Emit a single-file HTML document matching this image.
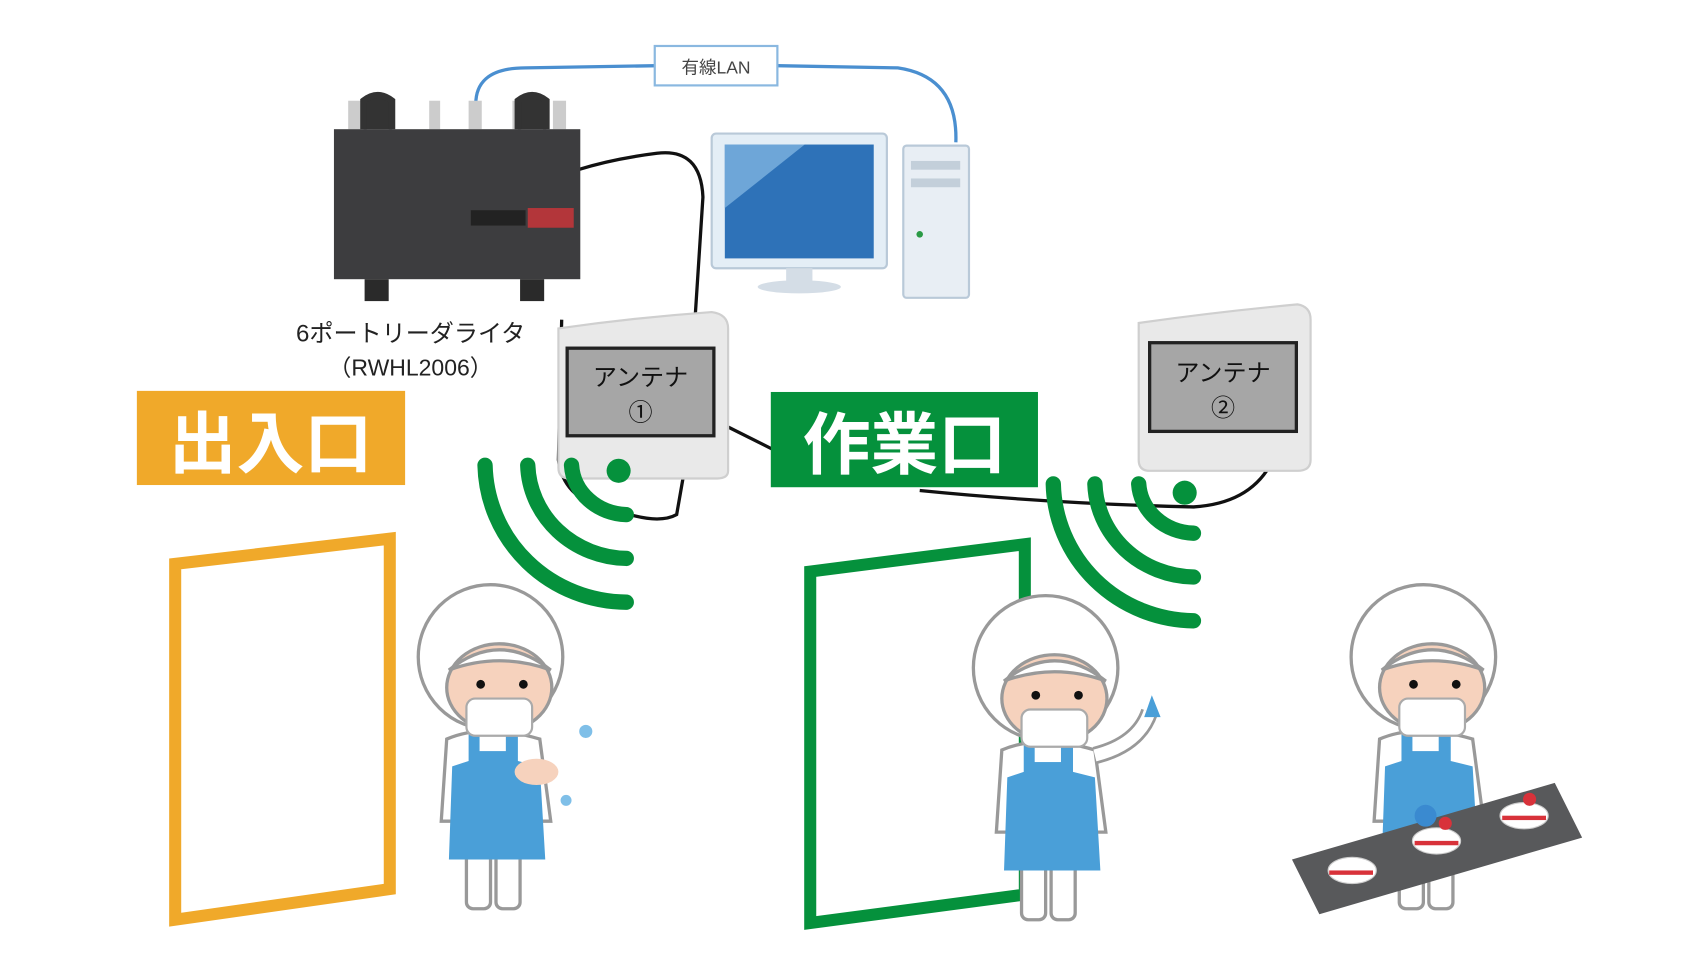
<!DOCTYPE html>
<html><head><meta charset="utf-8"><style>
html,body{margin:0;padding:0;background:#fff;width:1708px;height:962px;overflow:hidden}
svg{display:block}
text{font-family:"Liberation Sans","Noto Sans CJK JP",sans-serif}
</style></head><body>
<svg width="1708" height="962" viewBox="0 0 1708 962" xmlns="http://www.w3.org/2000/svg">
<defs>
<g id="worker">
  <!-- relative to hood center 0,0 -->
  <rect x="-22" y="178" width="22" height="52" rx="6" fill="#fff" stroke="#999" stroke-width="3"/>
  <rect x="5" y="178" width="22" height="52" rx="6" fill="#fff" stroke="#999" stroke-width="3"/>
  <path d="M-40 75 Q-5 60 45 75 L55 150 L-45 150 Z" fill="#fff" stroke="#999" stroke-width="3"/>
  <path d="M-20 68 L25 68 L25 95 L45 100 L50 185 L-38 185 L-35 100 L-20 95 Z" fill="#4a9fd8"/>
  <rect x="-10" y="70" width="24" height="16" fill="#fff"/>
  <circle cx="0" cy="0" r="66" fill="#fff" stroke="#999" stroke-width="3"/>
  <ellipse cx="8" cy="28" rx="48" ry="40" fill="#f6d2bd" stroke="#999" stroke-width="3"/>
  <path d="M-38 12 Q8 -25 55 12 Q8 -5 -38 12 Z" fill="#fff" stroke="#999" stroke-width="3"/>
  <circle cx="-9" cy="25" r="4" fill="#111"/><circle cx="30" cy="25" r="4" fill="#111"/>
  <rect x="-22" y="38" width="60" height="34" rx="8" fill="#fff" stroke="#aaa" stroke-width="2"/>
</g>
</defs>
<g transform="scale(1.0949)">
  <!-- LAN cable -->
  <path d="M435 102 Q430 62 480 62 L600 60 M710 60 L820 62 Q875 70 873 130" fill="none" stroke="#4a8fd0" stroke-width="3"/>
  <rect x="598" y="42" width="112" height="36" fill="#fff" stroke="#8ab8e0" stroke-width="2"/>
  <text x="654" y="67" font-size="16" text-anchor="middle" fill="#444">有線LAN</text>

  <!-- black cables -->
  <path d="M528 155 Q560 145 600 140 Q640 135 642 180 L635 288" fill="none" stroke="#111" stroke-width="3"/>
  <path d="M513 292 L510 420 Q515 458 560 465 Q600 480 618 470 L625 430" fill="none" stroke="#111" stroke-width="3"/>
  <path d="M665 390 L705 410" stroke="#111" stroke-width="3"/>
  <path d="M840 448 Q960 460 1090 463 Q1140 460 1160 425" fill="none" stroke="#111" stroke-width="3"/>

  <!-- device -->
  <g fill="#ccc"><rect x="318" y="92" width="12" height="26"/><rect x="340" y="92" width="12" height="26"/><rect x="392" y="92" width="10" height="26"/><rect x="428" y="92" width="12" height="26"/><rect x="468" y="92" width="12" height="26"/><rect x="505" y="92" width="12" height="26"/></g>
  <path d="M332 118 L332 92 Q345 82 358 92 L358 118 M473 118 L473 92 Q486 82 499 92 L499 118" fill="#333" stroke="#333" stroke-width="6"/>
  <rect x="305" y="118" width="225" height="137" fill="#3d3d3f"/>
  <rect x="430" y="192" width="50" height="14" fill="#222"/>
  <rect x="482" y="190" width="42" height="18" fill="#b3363a"/>
  <rect x="333" y="255" width="22" height="20" fill="#2a2a2a"/><rect x="475" y="255" width="22" height="20" fill="#2a2a2a"/>
  <text x="375" y="312" font-size="22" text-anchor="middle" fill="#222">6ポートリーダライタ</text>
  <text x="375" y="343" font-size="21" text-anchor="middle" fill="#222">（RWHL2006）</text>

  <!-- monitor -->
  <rect x="650" y="122" width="160" height="123" rx="4" fill="#e4eef6" stroke="#b9c9d8" stroke-width="2"/>
  <rect x="662" y="132" width="136" height="104" fill="#2e72b8"/>
  <path d="M662 132 L735 132 L662 190 Z" fill="#6ea6d8"/>
  <rect x="718" y="245" width="24" height="14" fill="#d4dde6"/>
  <ellipse cx="730" cy="262" rx="38" ry="6" fill="#d4dde6"/>
  <!-- tower -->
  <rect x="825" y="133" width="60" height="139" rx="3" fill="#e8eef4" stroke="#b9c9d8" stroke-width="2"/>
  <rect x="832" y="147" width="45" height="8" fill="#c3cfda"/><rect x="832" y="163" width="45" height="8" fill="#c3cfda"/>
  <circle cx="840" cy="214" r="3" fill="#2a9a45"/>

  <!-- antennas -->
  <path d="M510 300 Q580 290 650 285 Q665 287 665 300 L665 430 Q665 437 655 437 L520 437 Q510 437 510 427 Z" fill="#e9e9e9" stroke="#cfcfcf" stroke-width="2"/>
  <rect x="518" y="318" width="134" height="80" fill="#a6a6a6" stroke="#222" stroke-width="3"/>
  <text x="585" y="352" font-size="22" text-anchor="middle" fill="#111">アンテナ</text>
  <text x="585" y="384" font-size="22" text-anchor="middle" fill="#111">①</text>
  <path d="M1040 295 Q1110 285 1185 278 Q1197 280 1197 292 L1197 420 Q1197 430 1185 430 L1050 430 Q1040 430 1040 420 Z" fill="#e9e9e9" stroke="#cfcfcf" stroke-width="2"/>
  <rect x="1050" y="313" width="134" height="81" fill="#a6a6a6" stroke="#222" stroke-width="3"/>
  <text x="1117" y="348" font-size="22" text-anchor="middle" fill="#111">アンテナ</text>
  <text x="1117" y="380" font-size="22" text-anchor="middle" fill="#111">②</text>

  <!-- labels -->
  <rect x="125" y="357" width="245" height="86" fill="#f0a92a"/>
  <text x="247" y="427" font-size="62" font-weight="bold" text-anchor="middle" fill="#fff">出入口</text>
  <rect x="704" y="358" width="244" height="87" fill="#05913c"/>
  <text x="826" y="428" font-size="62" font-weight="bold" text-anchor="middle" fill="#fff">作業口</text>

  <!-- waves -->
  <g fill="none" stroke="#05913c" stroke-width="14" stroke-linecap="round">
    <path d="M443 425 A130 128 0 0 0 572 550"/>
    <path d="M482 425 A92 88 0 0 0 572 510"/>
    <path d="M522 425 A52 48 0 0 0 572 470"/>
    <path d="M962 442 A130 128 0 0 0 1090 567"/>
    <path d="M1000 442 A92 88 0 0 0 1090 527"/>
    <path d="M1040 442 A52 48 0 0 0 1090 487"/>
  </g>
  <circle cx="565" cy="430" r="11" fill="#05913c"/>
  <circle cx="1082" cy="450" r="11" fill="#05913c"/>

  <!-- doors -->
  <path d="M160 515 L356 492 L356 812 L160 840 Z" fill="#fff" stroke="#f0a92a" stroke-width="11"/>
  <path d="M740 522 L936 497 L936 817 L740 843 Z" fill="#fff" stroke="#05913c" stroke-width="11"/>

  <!-- workers -->
  <use href="#worker" x="448" y="600"/>
  <circle cx="535" cy="668" r="6" fill="#7fbfe8"/><circle cx="517" cy="731" r="5" fill="#7fbfe8"/>
  <ellipse cx="490" cy="705" rx="20" ry="12" fill="#f6d2bd"/>
  <use href="#worker" x="955" y="610"/>
  <path d="M1000 690 Q1040 680 1050 650" stroke="#999" stroke-width="16" fill="none"/>
  <path d="M1000 690 Q1040 680 1050 650" stroke="#fff" stroke-width="11" fill="none"/>
  <path d="M1045 655 L1052 635 L1060 655 Z" fill="#4a9fd8"/>
  <use href="#worker" x="1300" y="600"/>
  <path d="M1180 785 L1420 715 L1445 765 L1205 835 Z" fill="#58595b"/>
  <g fill="#fff" stroke="#ccc"><ellipse cx="1235" cy="795" rx="22" ry="12"/><ellipse cx="1312" cy="768" rx="22" ry="12"/><ellipse cx="1392" cy="745" rx="22" ry="12"/></g>
  <g fill="#d8323a"><rect x="1214" y="795" width="40" height="4"/><rect x="1292" y="768" width="40" height="4"/><rect x="1372" y="745" width="40" height="4"/><circle cx="1320" cy="752" r="6"/><circle cx="1397" cy="730" r="6"/></g>
  <circle cx="1302" cy="745" r="10" fill="#3a8ad0"/>
</g>
</svg>
</body></html>
